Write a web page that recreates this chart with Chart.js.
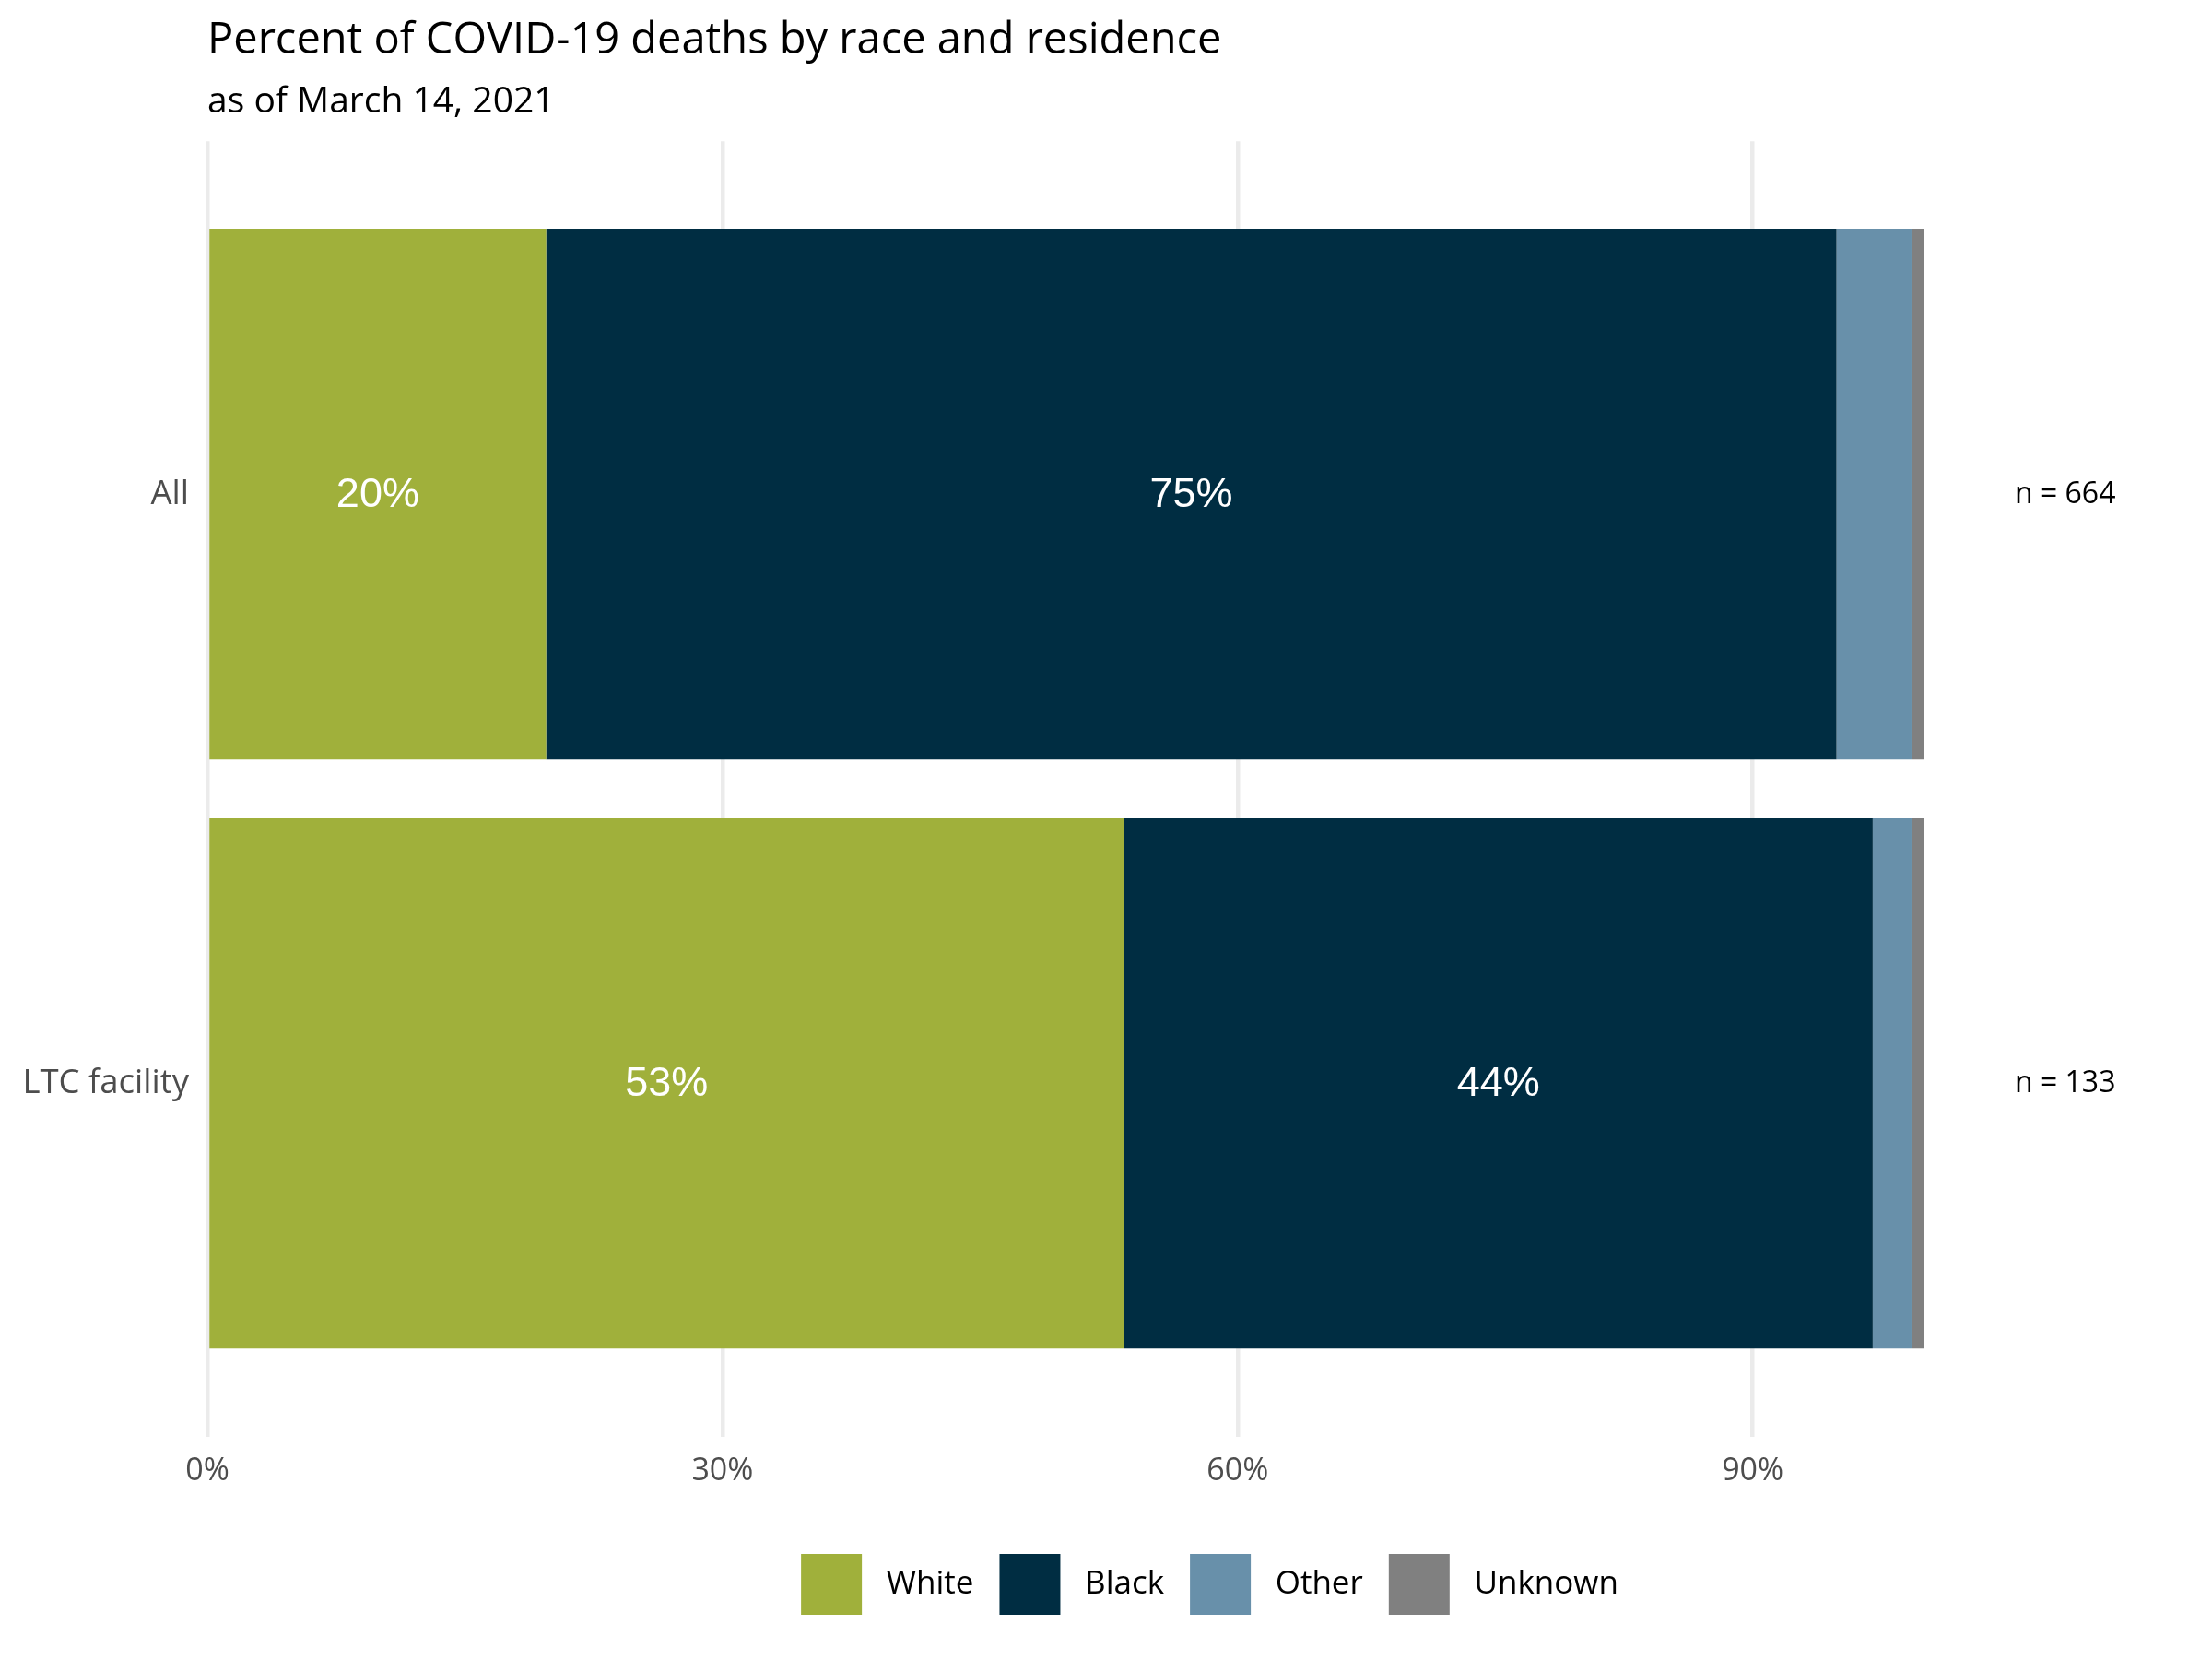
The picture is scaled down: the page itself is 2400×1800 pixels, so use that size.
<!DOCTYPE html>
<html>
<head>
<meta charset="utf-8">
<script src="https://cdn.jsdelivr.net/npm/chart.js@4"></script>
<style>
  html, body { margin: 0; padding: 0; background: #ffffff; }
  #wrap { width: 2400px; height: 1800px; }
</style>
</head>
<body>
<div id="wrap"><canvas id="c" width="2400" height="1800"></canvas></div>
<script>
// ---- data ----
const categories = ['All', 'LTC facility'];
const seriesNames = ['White', 'Black', 'Other', 'Unknown'];
const whiteVals = [19.73, 53.38];
const blackVals = [75.15, 43.61];
const otherVals = [4.37, 2.26];
const unknownVals = [0.75, 0.75];
const nLabels = ['n = 664', 'n = 133'];
const xTicks = [0, 30, 60, 90];
const seriesColors = ['#A0B03B', '#002D42', '#6890AA', '#808080'];
const labelledSeries = [0, 1];

const allVals = [whiteVals, blackVals, otherVals, unknownVals];

const datasets = seriesNames.map((name, s) => ({
  label: name,
  data: categories.map((c, i) => ({ x: allVals[s][i], y: i })),
  backgroundColor: seriesColors[s],
  borderWidth: 0,
  barPercentage: 0.9,
  categoryPercentage: 1.0
}));

const textPlugin = {
  id: 'textPlugin',
  afterDatasetsDraw(chart) {
    const ctx = chart.ctx;
    ctx.save();
    ctx.font = '45px "Liberation Sans", Arial, sans-serif';
    ctx.fillStyle = '#ffffff';
    ctx.textAlign = 'center';
    ctx.textBaseline = 'middle';
    labelledSeries.forEach(s => {
      const meta = chart.getDatasetMeta(s);
      meta.data.forEach((bar, i) => {
        const cx = (bar.x + bar.base) / 2;
        ctx.fillText(Math.round(allVals[s][i]) + '%', cx, bar.y + 1);
      });
    });
    ctx.font = '32px "Open Sans", sans-serif';
    ctx.fillStyle = '#000000';
    const xs = chart.scales.x, ys = chart.scales.y;
    nLabels.forEach((t, i) => {
      ctx.fillText(t, xs.getPixelForValue(108.2), ys.getPixelForValue(i));
    });
    ctx.restore();
  }
};

new Chart(document.getElementById('c'), {
  type: 'bar',
  data: { datasets },
  options: {
    indexAxis: 'y',
    responsive: false,
    animation: false,
    devicePixelRatio: 1,
    layout: { padding: { left: 0, right: 0, top: 0, bottom: 38 } },
    scales: {
      x: {
        type: 'linear',
        stacked: true,
        min: 0,
        max: 116.75,
        afterBuildTicks: (scale) => { scale.ticks = xTicks.map(v => ({ value: v })); },
        afterFit: (scale) => { scale.height = 99; },
        ticks: {
          callback: (v) => v + '%',
          color: '#4D4D4D',
          font: { family: 'Open Sans', size: 34 },
          padding: 17,
          maxRotation: 0
        },
        grid: { color: '#EBEBEB', lineWidth: 4.5, drawTicks: false },
        border: { display: false }
      },
      y: {
        type: 'linear',
        stacked: true,
        reverse: true,
        offset: false,
        min: -0.6,
        max: 1.6,
        afterBuildTicks: (scale) => { scale.ticks = categories.map((c, i) => ({ value: i })); },
        afterFit: (scale) => { scale.width = 225; },
        ticks: {
          callback: (v) => categories[v] !== undefined ? categories[v] : '',
          color: '#4D4D4D',
          font: { family: 'Open Sans', size: 36.5 },
          padding: 20
        },
        grid: { display: false, drawTicks: false, offset: false },
        border: { display: false }
      }
    },
    plugins: {
      title: {
        display: true,
        text: 'Percent of COVID-19 deaths by race and residence',
        align: 'start',
        fullSize: false,
        color: '#000000',
        font: { family: 'Open Sans', size: 47, weight: 'normal' },
        padding: { top: 16, bottom: 0 }
      },
      subtitle: {
        display: true,
        text: 'as of March 14, 2021',
        align: 'start',
        fullSize: false,
        color: '#000000',
        font: { family: 'Open Sans', size: 39, weight: 'normal' },
        padding: { top: 15, bottom: 19 }
      },
      legend: {
        display: true,
        position: 'bottom',
        fullSize: false,
        labels: {
          boxWidth: 66,
          boxHeight: 66,
          padding: 28,
          color: '#000000',
          font: { family: 'Open Sans', size: 35 },
          generateLabels: (chart) => Chart.defaults.plugins.legend.labels.generateLabels(chart)
            .map(l => Object.assign({}, l, { text: ' ' + l.text, lineWidth: 0 }))
        }
      },
      tooltip: { enabled: false }
    }
  },
  plugins: [textPlugin]
});
</script>
</body>
</html>
